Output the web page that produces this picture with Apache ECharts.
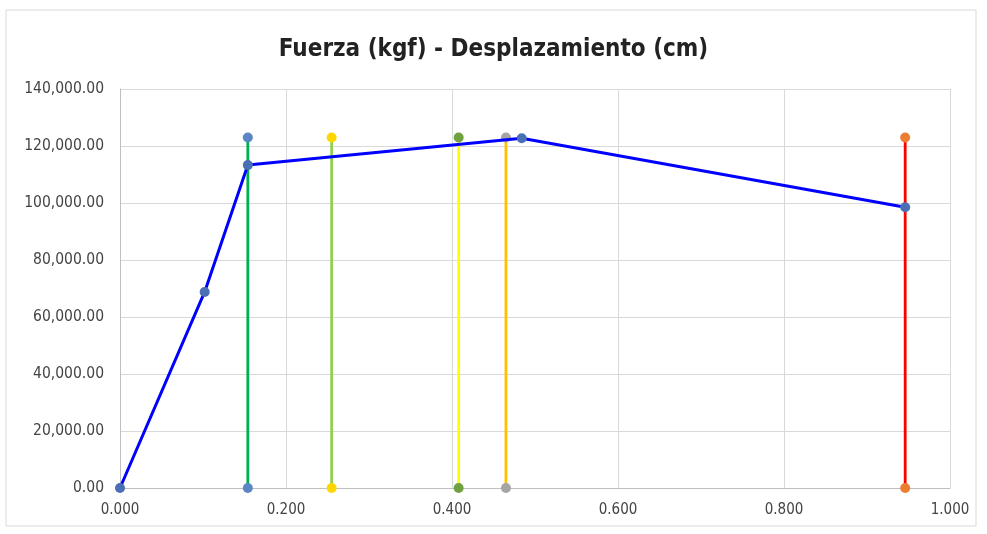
<!DOCTYPE html>
<html>
<head>
<meta charset="utf-8">
<script src="https://cdn.jsdelivr.net/npm/echarts@6/dist/echarts.min.js"></script>
<style>
html, body { margin: 0; padding: 0; background: #fff; }
#main { width: 987px; height: 534px; }
</style>
</head>
<body>
<div id="main"></div>
<script>
// curva fuerza - desplazamiento
var desplazamiento = [0, 0.102, 0.154, 0.484, 0.946];
var fuerza = [0, 68800, 113300, 122700, 98500];

// lineas verticales
var lineasX = [0.154, 0.255, 0.408, 0.465, 0.946];
var lineasTop = 123000;
var lineasColor = ['#00b050', '#92d050', '#ffff00', '#ffc000', '#ff0000'];
var marcaColor = ['#5b86c5', '#ffd700', '#70a040', '#a5a5a5', '#ed7d31'];

var fuente = 'DejaVu Sans Condensed, Liberation Sans Narrow, sans-serif';

function getseries(){
    var series = [];
    lineasX.forEach(function(x, i) {
        series.push({
            type: 'line', data: [[x, 0], [x, lineasTop]], symbol: 'circle', symbolSize: 10,
            lineStyle: { color: lineasColor[i], width: 2.8 },
            itemStyle: { color: marcaColor[i] }, z: 2
        });
    });
    series.push({
        type: 'line', data: desplazamiento.map(function(x, i) { return [x, fuerza[i]]; }),
        symbol: 'circle', symbolSize: 10,
        lineStyle: { color: '#0000ff', width: 3 },
        itemStyle: { color: '#4a6fb5' }, z: 3
    });
    return series;
}

var myChart = echarts.init(document.getElementById('main')),
    option = {
    backgroundColor: '#fff',
    animation: false,
    title: { text: 'Fuerza (kgf) - Desplazamiento (cm)', left: 'center', top: 33,
        textStyle: { fontFamily: fuente, fontSize: 24, fontWeight: 'bold', color: '#222' } },
    graphic: [{ type: 'rect', shape: { x: 6, y: 10, width: 970, height: 516 },
        style: { fill: 'none', stroke: '#d9d9d9', lineWidth: 1 } }],
    grid: { left: 120, right: 37, top: 89, bottom: 46 },
    xAxis: {
        type: 'value', min: 0, max: 1, interval: 0.2,
        axisLine: { lineStyle: { color: '#bfbfbf' } }, axisTick: { show: false },
        splitLine: { lineStyle: { color: '#d9d9d9' } },
        axisLabel: { fontFamily: fuente, fontSize: 15, color: '#444', margin: 15,
            formatter: function(v) { return v.toFixed(3); } }
    },
    yAxis: {
        type: 'value', min: 0, max: 140000, interval: 20000,
        axisLine: { show: true, lineStyle: { color: '#bfbfbf' } }, axisTick: { show: false },
        splitLine: { lineStyle: { color: '#d9d9d9' } },
        axisLabel: { fontFamily: fuente, fontSize: 15.5, color: '#444', margin: 16,
            formatter: function(v) {
                return v.toLocaleString('en-US', { minimumFractionDigits: 2, maximumFractionDigits: 2 });
            } }
    },
    series: getseries()
};

myChart.setOption(option);
</script>
</body>
</html>
